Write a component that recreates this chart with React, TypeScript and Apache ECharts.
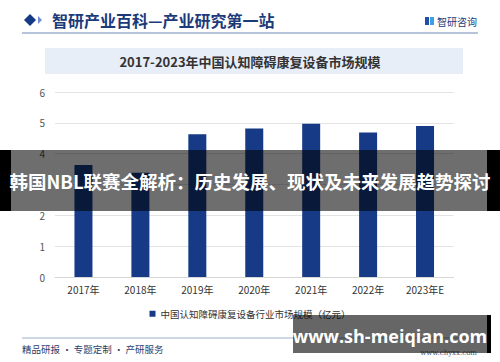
import React, { useEffect, useRef } from "react";
import * as echarts from "echarts";

const categories = ["2017年", "2018年", "2019年", "2020年", "2021年", "2022年", "2023年E"];
const marketSize = [3.63, 3.38, 4.63, 4.82, 4.97, 4.69, 4.9];
const seriesName = "中国认知障碍康复设备行业市场规模（亿元）";
const chartTitle = "2017-2023年中国认知障碍康复设备市场规模";
const headerTitle = "智研产业百科—产业研究第一站";
const brandName = "智研咨询";
const footerText = "精品研报 · 专题定制 · 产研服务";
const footerUrl = "www.chyxx.com";
const overlayTitle = "韩国NBL联赛全解析：历史发展、现状及未来发展趋势探讨";
const overlayUrl = "www.sh-meiqian.com";

const CJK = '"Noto Sans CJK SC", "Noto Sans", sans-serif';

export default function App() {
  const ref = useRef<HTMLDivElement>(null);
  useEffect(() => {
    if (!ref.current) return;
    const chart = echarts.init(ref.current, null, { renderer: "svg" });
    chart.setOption({
      animation: false,
      backgroundColor: "#ffffff",
      grid: { left: 55, right: 46.5, top: 92, bottom: 85, containLabel: false },
      xAxis: {
        type: "category",
        data: categories,
        axisTick: { show: false },
        axisLine: { lineStyle: { color: "#d6d6d6" } },
        axisLabel: { color: "#333", fontSize: 10, fontFamily: CJK, margin: 7 },
      },
      yAxis: {
        type: "value",
        min: 0,
        max: 6,
        interval: 1,
        axisLine: { show: false },
        axisTick: { show: false },
        axisLabel: { color: "#555", fontSize: 10, fontFamily: CJK, margin: 10 },
        splitLine: { lineStyle: { color: "#e3e3e3" } },
      },
      legend: {
        data: [seriesName],
        left: "center",
        top: 304,
        icon: "rect",
        itemWidth: 6,
        itemHeight: 6,
        itemGap: 4,
        textStyle: { color: "#333", fontSize: 9.5, fontFamily: CJK },
      },
      series: [
        {
          name: seriesName,
          type: "bar",
          data: marketSize,
          barWidth: 18,
          itemStyle: { color: "#163a86" },
        },
      ],
      graphic: [
        {
          type: "polygon",
          shape: { points: [[30, 14], [36, 20], [30, 26], [24, 20]] },
          style: { fill: "#163a86" },
        },
        {
          type: "polygon",
          shape: { points: [[38, 16], [42, 20], [38, 24]] },
          style: { fill: "#6f8fcf" },
        },
        {
          type: "text",
          x: 52,
          y: 20,
          style: {
            text: headerTitle,
            fill: "#1b3a7a",
            fontSize: 16,
            fontWeight: "bold",
            fontFamily: CJK,
            verticalAlign: "middle",
          },
        },
        { type: "rect", shape: { x: 425, y: 17, width: 4, height: 8 }, style: { fill: "#1d4fa8" } },
        { type: "rect", shape: { x: 430, y: 17, width: 4, height: 8 }, style: { fill: "#3fa0e0" } },
        {
          type: "text",
          x: 437,
          y: 21,
          style: {
            text: brandName,
            fill: "#1b3a7a",
            fontSize: 10,
            fontFamily: CJK,
            verticalAlign: "middle",
          },
        },
        {
          type: "line",
          shape: { x1: 22, y1: 33, x2: 478, y2: 33 },
          style: { stroke: "#9fb0cc", lineWidth: 1.5 },
        },
        { type: "rect", shape: { x: 45, y: 48, width: 418, height: 26 }, style: { fill: "#e8eef8" } },
        {
          type: "text",
          x: 250,
          y: 61,
          style: {
            text: chartTitle,
            fill: "#333",
            fontSize: 13,
            fontWeight: "bold",
            fontFamily: CJK,
            align: "center",
            verticalAlign: "middle",
          },
        },
        {
          type: "line",
          shape: { x1: 22, y1: 338, x2: 478, y2: 338 },
          style: { stroke: "#9fb0cc", lineWidth: 1 },
        },
        {
          type: "text",
          x: 22,
          y: 349,
          style: {
            text: footerText,
            fill: "#2a3f6e",
            fontSize: 9.5,
            fontFamily: CJK,
            verticalAlign: "middle",
          },
        },
        {
          type: "text",
          x: 477,
          y: 353,
          style: {
            text: footerUrl,
            fill: "#445577",
            fontSize: 7,
            fontFamily: "DejaVu Serif, serif",
            align: "right",
            verticalAlign: "middle",
          },
        },
        { type: "rect", shape: { x: 0, y: 150, width: 11, height: 61 }, style: { fill: "#000" }, z: 100 },
        { type: "rect", shape: { x: 487, y: 150, width: 13, height: 61 }, style: { fill: "#000" }, z: 100 },
        {
          type: "rect",
          shape: { x: 11, y: 150, width: 476, height: 61 },
          style: { fill: "rgba(0,0,0,0.57)" },
          z: 100,
        },
        {
          type: "text",
          x: 250,
          y: 181,
          z: 101,
          style: {
            text: overlayTitle,
            fill: "#ffffff",
            fontSize: 18.5,
            fontWeight: "bold",
            fontFamily: CJK,
            align: "center",
            verticalAlign: "middle",
          },
        },
        {
          type: "rect",
          shape: { x: 293, y: 315, width: 194, height: 38 },
          style: { fill: "rgba(0,0,0,0.6)" },
          z: 100,
        },
        { type: "rect", shape: { x: 487, y: 315, width: 4, height: 38 }, style: { fill: "#000" }, z: 100 },
        {
          type: "text",
          x: 390,
          y: 336,
          z: 101,
          style: {
            text: overlayUrl,
            fill: "#ffffff",
            fontSize: 18,
            fontWeight: "bold",
            fontFamily: '"Open Sans", "DejaVu Sans", sans-serif',
            align: "center",
            verticalAlign: "middle",
          },
        },
      ],
    });
    return () => chart.dispose();
  }, []);
  return (
    <div
      ref={ref}
      style={{ position: "fixed", left: 0, top: 0, width: 500, height: 362 }}
    />
  );
}
